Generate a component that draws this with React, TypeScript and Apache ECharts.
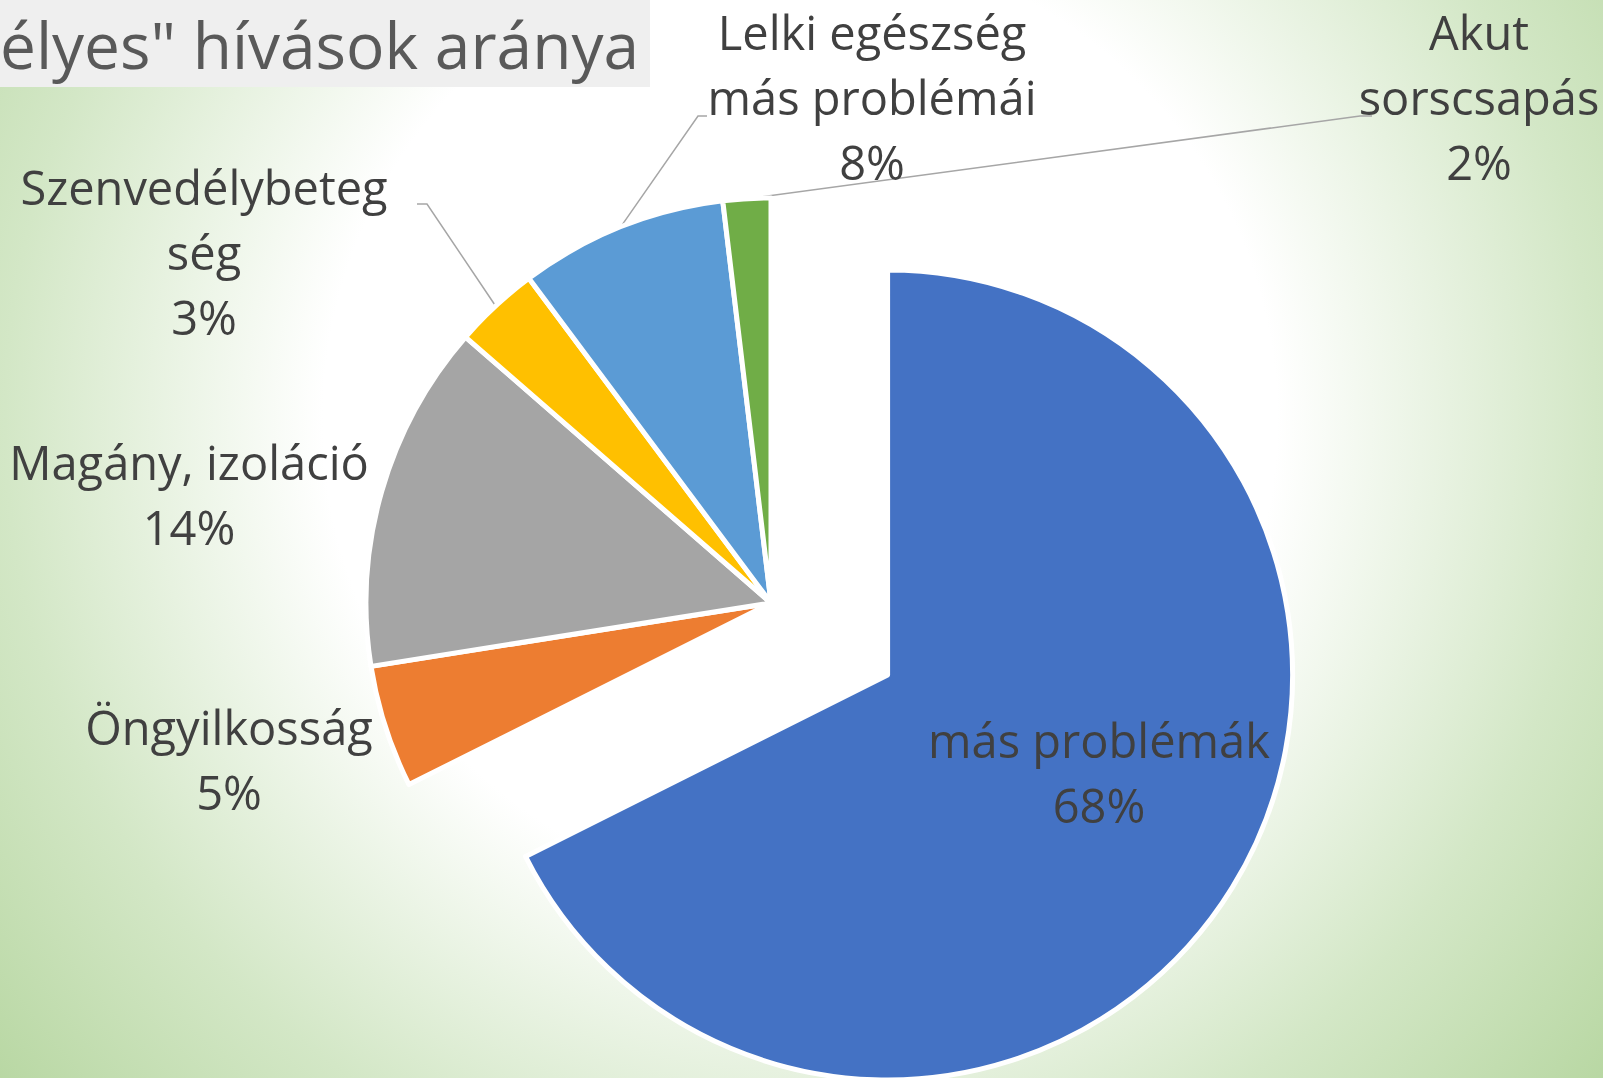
import React, { useEffect, useRef } from 'react';
import * as echarts from 'echarts';

// ---- data ----
const categories = [
  'más problémák',
  'Öngyilkosság',
  'Magány, izoláció',
  'Szenvedélybeteg\nség',
  'Lelki egészség\nmás problémái',
  'Akut\nsorscsapás',
];
const values = [67.6, 4.9, 13.9, 3.4, 8.3, 1.9];
const sliceColors = ['#4472C4', '#ED7D31', '#A5A5A5', '#FFC000', '#5B9BD5', '#70AD47'];
const titleText = 'élyes" hívások aránya';

// ---- layout (px) ----
const pieCenter = [771, 603];
const pieRadius = 405;
const explodeIndex = 0;
const explodeOffset = 137;
const labelCenters = [
  [1099, 772],
  [229, 759],
  [189, 494],
  [204, 252],
  [872, 97],
  [1479, 97],
];
const leaderBends: (number[][] | null)[] = [
  null,
  null,
  null,
  [[427, 204], [417, 204]],
  [[698, 116], [707, 116]],
  [[1360, 116], [1372, 116]],
];
const showLeader = [false, false, false, true, true, true];

export default function App() {
  const ref = useRef<HTMLDivElement>(null);
  useEffect(() => {
    if (!ref.current) return;
    const chart = echarts.init(ref.current, null, { renderer: 'svg' });
    const bg = new echarts.graphic.RadialGradient(
      800,
      420,
      1060,
      [
        { offset: 0, color: '#ffffff' },
        { offset: 0.45, color: '#ffffff' },
        { offset: 0.75, color: '#d3e7c6' },
        { offset: 1, color: '#b6d6a0' },
      ],
      true
    );

    // direction of the exploded slice (middle of its angular span, clockwise from 12 o'clock)
    const total = values.reduce((a, b) => a + b, 0);
    let before = 0;
    for (let i = 0; i < explodeIndex; i++) before += values[i];
    const midFrac = (before + values[explodeIndex] / 2) / total;
    const midRad = midFrac * 2 * Math.PI;
    const ox = Math.sin(midRad) * explodeOffset;
    const oy = -Math.cos(midRad) * explodeOffset;

    const hidden = {
      itemStyle: { color: 'rgba(0,0,0,0)', borderWidth: 0 },
      label: { show: false },
      labelLine: { show: false },
    };

    const makeData = (inExploded: boolean) =>
      categories.map((name, i) => {
        const visible = (i === explodeIndex) === inExploded;
        if (!visible) return { name, value: values[i], ...hidden };
        return {
          name,
          value: values[i],
          itemStyle: { color: sliceColors[i] },
          labelLine: { show: showLeader[i] },
        };
      });

    const common = {
      type: 'pie',
      radius: pieRadius,
      startAngle: 90,
      clockwise: true,
      avoidLabelOverlap: false,
      silent: true,
      itemStyle: { borderColor: '#ffffff', borderWidth: 5 },
      label: {
        show: true,
        color: '#404040',
        fontFamily: 'Open Sans',
        fontSize: 47,
        lineHeight: 65,
        align: 'center',
        formatter: (p: any) => `${p.name}\n${Math.round(p.percent)}%`,
      },
      labelLine: {
        show: true,
        length: 10,
        length2: 10,
        lineStyle: { color: '#a6a6a6', width: 1.5 },
      },
      labelLayout: (params: any) => {
        const i = params.dataIndex;
        const c = labelCenters[i];
        const res: any = { x: c[0], y: c[1], align: 'center', verticalAlign: 'middle' };
        const b = leaderBends[i];
        if (b && params.labelLinePoints) {
          res.labelLinePoints = [params.labelLinePoints[0], b[0], b[1]];
        }
        return res;
      },
    };

    chart.setOption({
      animation: false,
      backgroundColor: bg,
      graphic: [
        {
          type: 'rect',
          shape: { x: 0, y: 0, width: 650, height: 87 },
          style: { fill: '#efefef' },
          z: 0,
        },
        {
          type: 'text',
          x: 639,
          y: 44,
          z: 1,
          style: {
            text: titleText,
            fontSize: 64,
            fontFamily: 'Open Sans',
            fill: '#595959',
            align: 'right',
            verticalAlign: 'middle',
          },
        },
      ],
      series: [
        {
          ...common,
          name: 'rest',
          center: pieCenter,
          data: makeData(false),
        },
        {
          ...common,
          name: 'exploded',
          center: [pieCenter[0] + ox, pieCenter[1] + oy],
          data: makeData(true),
        },
      ],
    });
    return () => chart.dispose();
  }, []);
  return (
    <div
      ref={ref}
      style={{ position: 'fixed', left: 0, top: 0, width: 1603, height: 1078 }}
    />
  );
}
